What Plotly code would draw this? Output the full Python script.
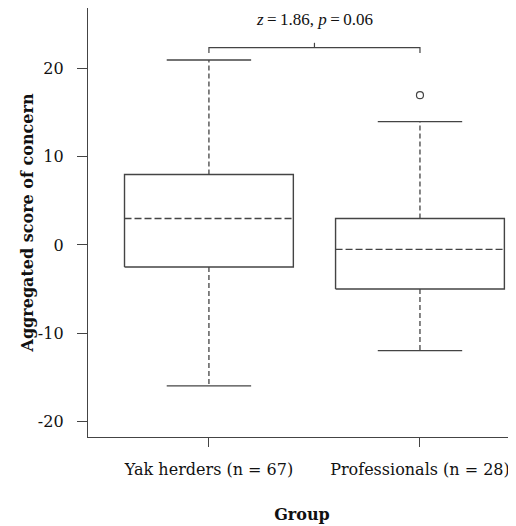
import plotly.graph_objects as go

groups = ["Yak herders (n = 67)", "Professionals (n = 28)"]
lower_whisker = [-16, -12]
q1 = [-2.5, -5]
median = [3, -0.5]
q3 = [8, 3]
upper_whisker = [21, 14]
outlier_group = [1]
outlier_value = [17]

y_ticks = [-20, -10, 0, 10, 20]
y_ticktext = ["-20", "-10", "0", "10", "20"]

test_label = "<i>z</i>\u2009=\u20091.86, <i>p</i>\u2009=\u20090.06"
bracket_level = 22.4
bracket_end = 21.8
bracket_mid = 22.95
label_level = 25.6

col = "#444444"
font = "DejaVu Serif"
half_box = 0.4
half_cap = 0.2

fig = go.Figure()
for i, g in enumerate(groups):
    fig.add_trace(go.Scatter(
        x=[i - half_box, i + half_box, i + half_box, i - half_box, i - half_box],
        y=[q1[i], q1[i], q3[i], q3[i], q1[i]],
        mode="lines", line=dict(color=col, width=1.4), hoverinfo="skip", showlegend=False))
    fig.add_trace(go.Scatter(
        x=[i - half_box, i + half_box], y=[median[i], median[i]],
        mode="lines", line=dict(color=col, width=1.4, dash="7px,3px"), showlegend=False))
    fig.add_trace(go.Scatter(
        x=[i, i, None, i, i], y=[q3[i], upper_whisker[i], None, q1[i], lower_whisker[i]],
        mode="lines", line=dict(color=col, width=1.3, dash="5px,3px"), showlegend=False))
    fig.add_trace(go.Scatter(
        x=[i - half_cap, i + half_cap, None, i - half_cap, i + half_cap],
        y=[upper_whisker[i], upper_whisker[i], None, lower_whisker[i], lower_whisker[i]],
        mode="lines", line=dict(color=col, width=1.4), showlegend=False))

fig.add_trace(go.Scatter(
    x=outlier_group, y=outlier_value, mode="markers",
    marker=dict(symbol="circle-open", size=7, color=col, line=dict(width=1.2)),
    showlegend=False))

mid = 0.5
fig.add_trace(go.Scatter(
    x=[0, 0, 1, 1, None, mid, mid],
    y=[bracket_end, bracket_level, bracket_level, bracket_end, None, bracket_level, bracket_mid],
    mode="lines", line=dict(color=col, width=1.2), showlegend=False))

fig.add_annotation(x=mid, y=label_level, text=test_label, showarrow=False,
                   font=dict(family="Liberation Serif", size=17, color="#111"))

fig.update_layout(
    width=508, height=518,
    margin=dict(l=80, r=0, t=0, b=89),
    paper_bgcolor="white", plot_bgcolor="white",
    font=dict(family=font, color="#111"),
    xaxis=dict(range=[-0.573, 1.455], tickvals=[0, 1], ticktext=groups,
               showline=True, linecolor=col, linewidth=1.4, ticks="outside",
               ticklen=9, tickcolor=col, tickwidth=1.3, showgrid=False, zeroline=False,
               automargin=False, ticklabelstandoff=9,
               tickfont=dict(size=16, family=font, color="#111"),
               title=dict(text="<b>Group</b>", font=dict(size=16, family=font, color="#111"), standoff=30)),
    yaxis=dict(range=[-21.8, 26.9], tickvals=y_ticks, ticktext=y_ticktext,
               showline=True, linecolor=col, linewidth=1.4, ticks="outside",
               ticklen=10, tickcolor=col, tickwidth=1.3, showgrid=False, zeroline=False,
               automargin=False, ticklabelstandoff=10,
               tickfont=dict(size=16, family=font, color="#111"),
               title=dict(text="<b>Aggregated score of concern</b>", font=dict(size=16, family=font, color="#111"), standoff=0)),
)

fig.write_html("out.html")
